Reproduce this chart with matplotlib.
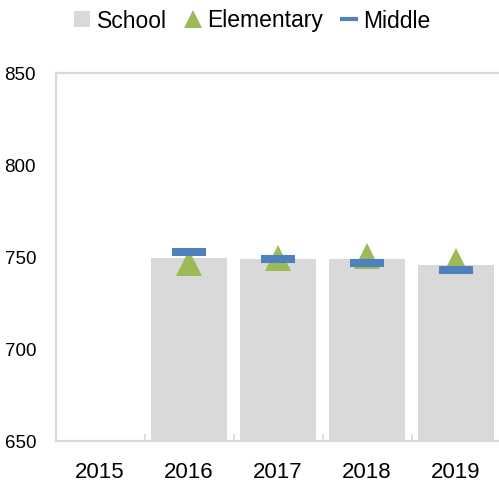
import matplotlib
matplotlib.use("Agg")
import matplotlib.pyplot as plt
import numpy as np
from matplotlib.lines import Line2D

plt.rcParams['font.family'] = ['Liberation Sans', 'DejaVu Sans']

years = ["2015", "2016", "2017", "2018", "2019"]
school = [np.nan, 749.6, 748.9, 748.7, 745.6]
elementary = [np.nan, 746.6, 749.3, 750.7, 748.0]
middle = [np.nan, 752.5, 749.1, 746.9, 743.0]

W, H = 499, 486
fig = plt.figure(figsize=(W / 100, H / 100), dpi=100)
ax = fig.add_axes([55.5 / W, 1 - 441 / H, 445 / W, (441 - 73) / H])

x = np.arange(len(years))
ax.bar(x, np.array(school) - 650, bottom=650, width=0.865, color='#d9d9d9', zorder=2)
ax.plot(x, elementary, linestyle='none', marker='^', markersize=19.4,
        color='#9bbb59', markeredgewidth=0, zorder=3)
ax.plot(x, middle, linestyle='none', marker='_', markersize=23.8,
        markeredgewidth=5.8, color='#4f81bd', zorder=4)

ax.set_xlim(-0.5, len(years) - 0.5)
ax.set_ylim(650, 850)
ax.set_yticks([650, 700, 750, 800, 850])
ax.set_xticks(x)
ax.set_xticklabels(years)
ax.set_xticks(np.arange(0.5, len(years) - 0.5, 1), minor=True)
ax.tick_params(axis='x', which='major', length=0, pad=15, labelsize=16)
ax.tick_params(axis='x', which='minor', length=5, width=1.2, direction='in', color='#d9d9d9')
ax.tick_params(axis='y', length=0, pad=14, labelsize=13.5)
for s in ax.spines.values():
    s.set_color('#d9d9d9')
    s.set_linewidth(1.6)
    s.set_zorder(1)

handles = [
    Line2D([], [], linestyle='none', marker='s', markersize=11, color='#d9d9d9', markeredgewidth=0),
    Line2D([], [], linestyle='none', marker='^', markersize=12.5, color='#9bbb59', markeredgewidth=0),
    Line2D([], [], linestyle='none', marker='_', markersize=13, markeredgewidth=3, color='#4f81bd'),
]
fig.legend(handles, ["School", "Elementary", "Middle"], loc='center',
           bbox_to_anchor=(252 / W, 1 - 21 / H), ncol=3, frameon=False,
           fontsize=16.5, handlelength=0.75, handletextpad=0.25, columnspacing=0.75,
           borderaxespad=0)

fig.savefig("out.png", dpi=100)
